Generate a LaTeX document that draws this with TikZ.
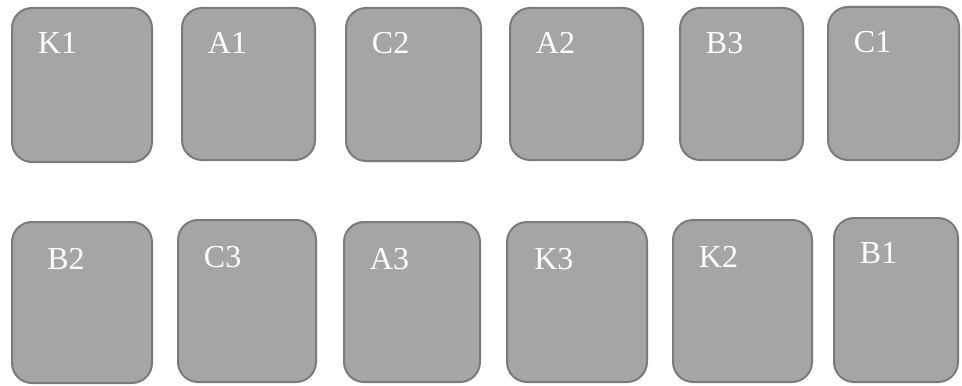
\documentclass[tikz,border=0pt]{standalone}
\usepackage{fontspec}
\newfontfamily\tagfont{Liberation Serif}
\usetikzlibrary{positioning}

\definecolor{cellfill}{HTML}{A5A5A5}
\definecolor{cellline}{HTML}{7B7B7B}

\tikzset{
  cell/.style={draw=cellline,fill=cellfill,line width=1.5pt,rounded corners=15pt,inner sep=0pt},
  tag/.style={text=white,inner sep=0pt,font=\tagfont\fontsize{24}{29}\selectfont}
}

\begin{document}
\begin{tikzpicture}[x=0.75pt,y=-0.75pt]
\useasboundingbox (0,0) rectangle (962,385);

% upper row
\node[cell,minimum width=105pt,minimum height=115.5pt] (K1) at (82,85) {};
\node[cell,minimum width=99.75pt,minimum height=114pt] (A1) at (248.5,84) {};
\node[cell,minimum width=101.25pt,minimum height=114.75pt] (C2) at (413.5,84.5) {};
\node[cell,minimum width=99.75pt,minimum height=114pt] (A2) at (576.5,84) {};
\node[cell,minimum width=92.25pt,minimum height=114pt] (B3) at (741.5,84) {};
\node[cell,minimum width=98.25pt,minimum height=114.75pt] (C1) at (893.5,83.5) {};

% lower row
\node[cell,minimum width=105pt,minimum height=120.75pt] (B2) at (82,302.5) {};
\node[cell,minimum width=103.5pt,minimum height=121.5pt] (C3) at (247,301) {};
\node[cell,minimum width=102pt,minimum height=120pt] (A3) at (412,302) {};
\node[cell,minimum width=105pt,minimum height=120pt] (K3) at (577,302) {};
\node[cell,minimum width=104.25pt,minimum height=121.5pt] (K2) at (742.5,301) {};
\node[cell,minimum width=93pt,minimum height=123pt] (B1) at (896,300) {};

% labels
\node[tag,below right=19pt and 20pt of K1.north west] (tK1) {K1};
\node[tag,below right=19pt and 20pt of A1.north west] (tA1) {A1};
\node[tag,below right=19pt and 20pt of C2.north west] (tC2) {C2};
\node[tag,below right=19pt and 20pt of A2.north west] (tA2) {A2};
\node[tag,below right=19pt and 20pt of B3.north west] (tB3) {B3};
\node[tag,below right=19pt and 20pt of C1.north west] (tC1) {C1};

\node[tag,below right=20pt and 27pt of B2.north west] (tB2) {B2};
\node[tag,below right=20pt and 20pt of C3.north west] (tC3) {C3};
\node[tag,below right=20pt and 20pt of A3.north west] (tA3) {A3};
\node[tag,below right=20pt and 21pt of K3.north west] (tK3) {K3};
\node[tag,below right=20pt and 20pt of K2.north west] (tK2) {K2};
\node[tag,below right=19pt and 20pt of B1.north west] (tB1) {B1};

\end{tikzpicture}
\end{document}
